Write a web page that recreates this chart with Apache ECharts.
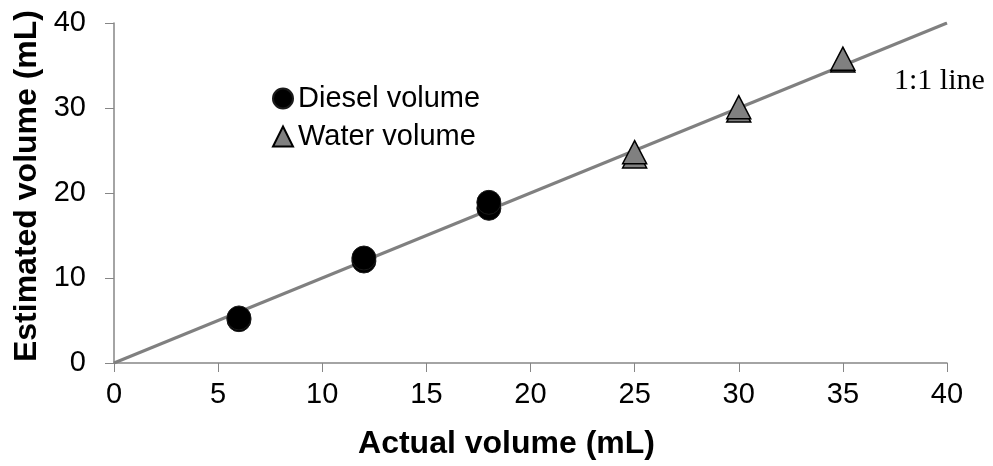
<!DOCTYPE html>
<html><head><meta charset="utf-8">
<script src="https://cdn.jsdelivr.net/npm/echarts@6/dist/echarts.min.js"></script>
<style>html,body{margin:0;padding:0;background:#fff}#c{width:993px;height:466px}</style>
</head><body><div id="c"></div>
<script>
const dieselX = [6, 6, 12, 12, 18, 18];
const dieselY = [5.1, 5.3, 12.0, 12.35, 18.2, 18.9];
const waterX = [25, 25, 30, 30, 35, 35];
const waterY = [24.3, 24.8, 29.7, 30.1, 35.6, 35.8];
const lineX = [0, 40];
const lineY = [0, 40];
const xTicks = [0, 5, 10, 15, 20, 25, 30, 35, 40];
const yTicks = [0, 10, 20, 30, 40];

const zip = (a, b) => a.map((v, i) => [v, b[i]]);
const chart = echarts.init(document.getElementById('c'), null, {renderer: 'canvas'});
const axisCol = '#868686';
const FF = '"Liberation Sans", Arial, sans-serif';
chart.setOption({
  animation: false,
  backgroundColor: '#fff',
  grid: {left: 114, right: 46, top: 23, bottom: 103},
  xAxis: {
    type: 'value', min: xTicks[0], max: xTicks[xTicks.length - 1], interval: xTicks[1] - xTicks[0],
    name: 'Actual volume (mL)', nameLocation: 'middle', nameGap: 65,
    nameTextStyle: {fontFamily: FF, fontSize: 32, fontWeight: 'bold', color: '#000', padding: [0, 48, 0, 0]},
    axisLine: {lineStyle: {color: axisCol, width: 1.5}},
    axisTick: {length: 9, lineStyle: {color: axisCol}},
    axisLabel: {fontFamily: FF, fontSize: 29, color: '#000', margin: 17},
    splitLine: {show: false}
  },
  yAxis: {
    type: 'value', min: yTicks[0], max: yTicks[yTicks.length - 1], interval: yTicks[1] - yTicks[0],
    name: 'Estimated volume (mL)', nameLocation: 'middle', nameGap: 70,
    nameTextStyle: {fontFamily: FF, fontSize: 32, fontWeight: 'bold', color: '#000', padding: [0, 0, 0, 14]},
    axisLine: {show: true, lineStyle: {color: axisCol, width: 1.5}},
    axisTick: {show: true, length: 9, lineStyle: {color: axisCol}},
    axisLabel: {fontFamily: FF, fontSize: 29, color: '#000', margin: 28},
    splitLine: {show: false}
  },
  legend: {
    left: 267, top: 79, orient: 'vertical', itemGap: 9,
    itemWidth: 20, itemHeight: 20,
    textStyle: {fontFamily: FF, fontSize: 29, color: '#000'},
    data: ['Diesel volume', 'Water volume']
  },
  series: [
    {
      name: '1:1 line', type: 'line', data: zip(lineX, lineY), symbol: 'none',
      lineStyle: {color: '#808080', width: 3}, z: 1, silent: true
    },
    {
      name: 'Diesel volume', type: 'scatter', data: zip(dieselX, dieselY),
      symbol: 'circle', symbolSize: 24,
      itemStyle: {color: '#000', borderColor: '#1a1a1a', borderWidth: 1, opacity: 1}, z: 3
    },
    {
      name: 'Water volume', type: 'scatter', data: zip(waterX, waterY),
      symbol: 'triangle', symbolSize: [24, 23],
      itemStyle: {color: '#808080', borderColor: '#000', borderWidth: 1.5, opacity: 1}, z: 3
    }
  ],
  graphic: [{
    type: 'text', left: 894, top: 66,
    style: {text: '1:1 line', font: '30px "Liberation Serif", "Times New Roman", serif', fill: '#000'}
  }]
});
</script></body></html>
